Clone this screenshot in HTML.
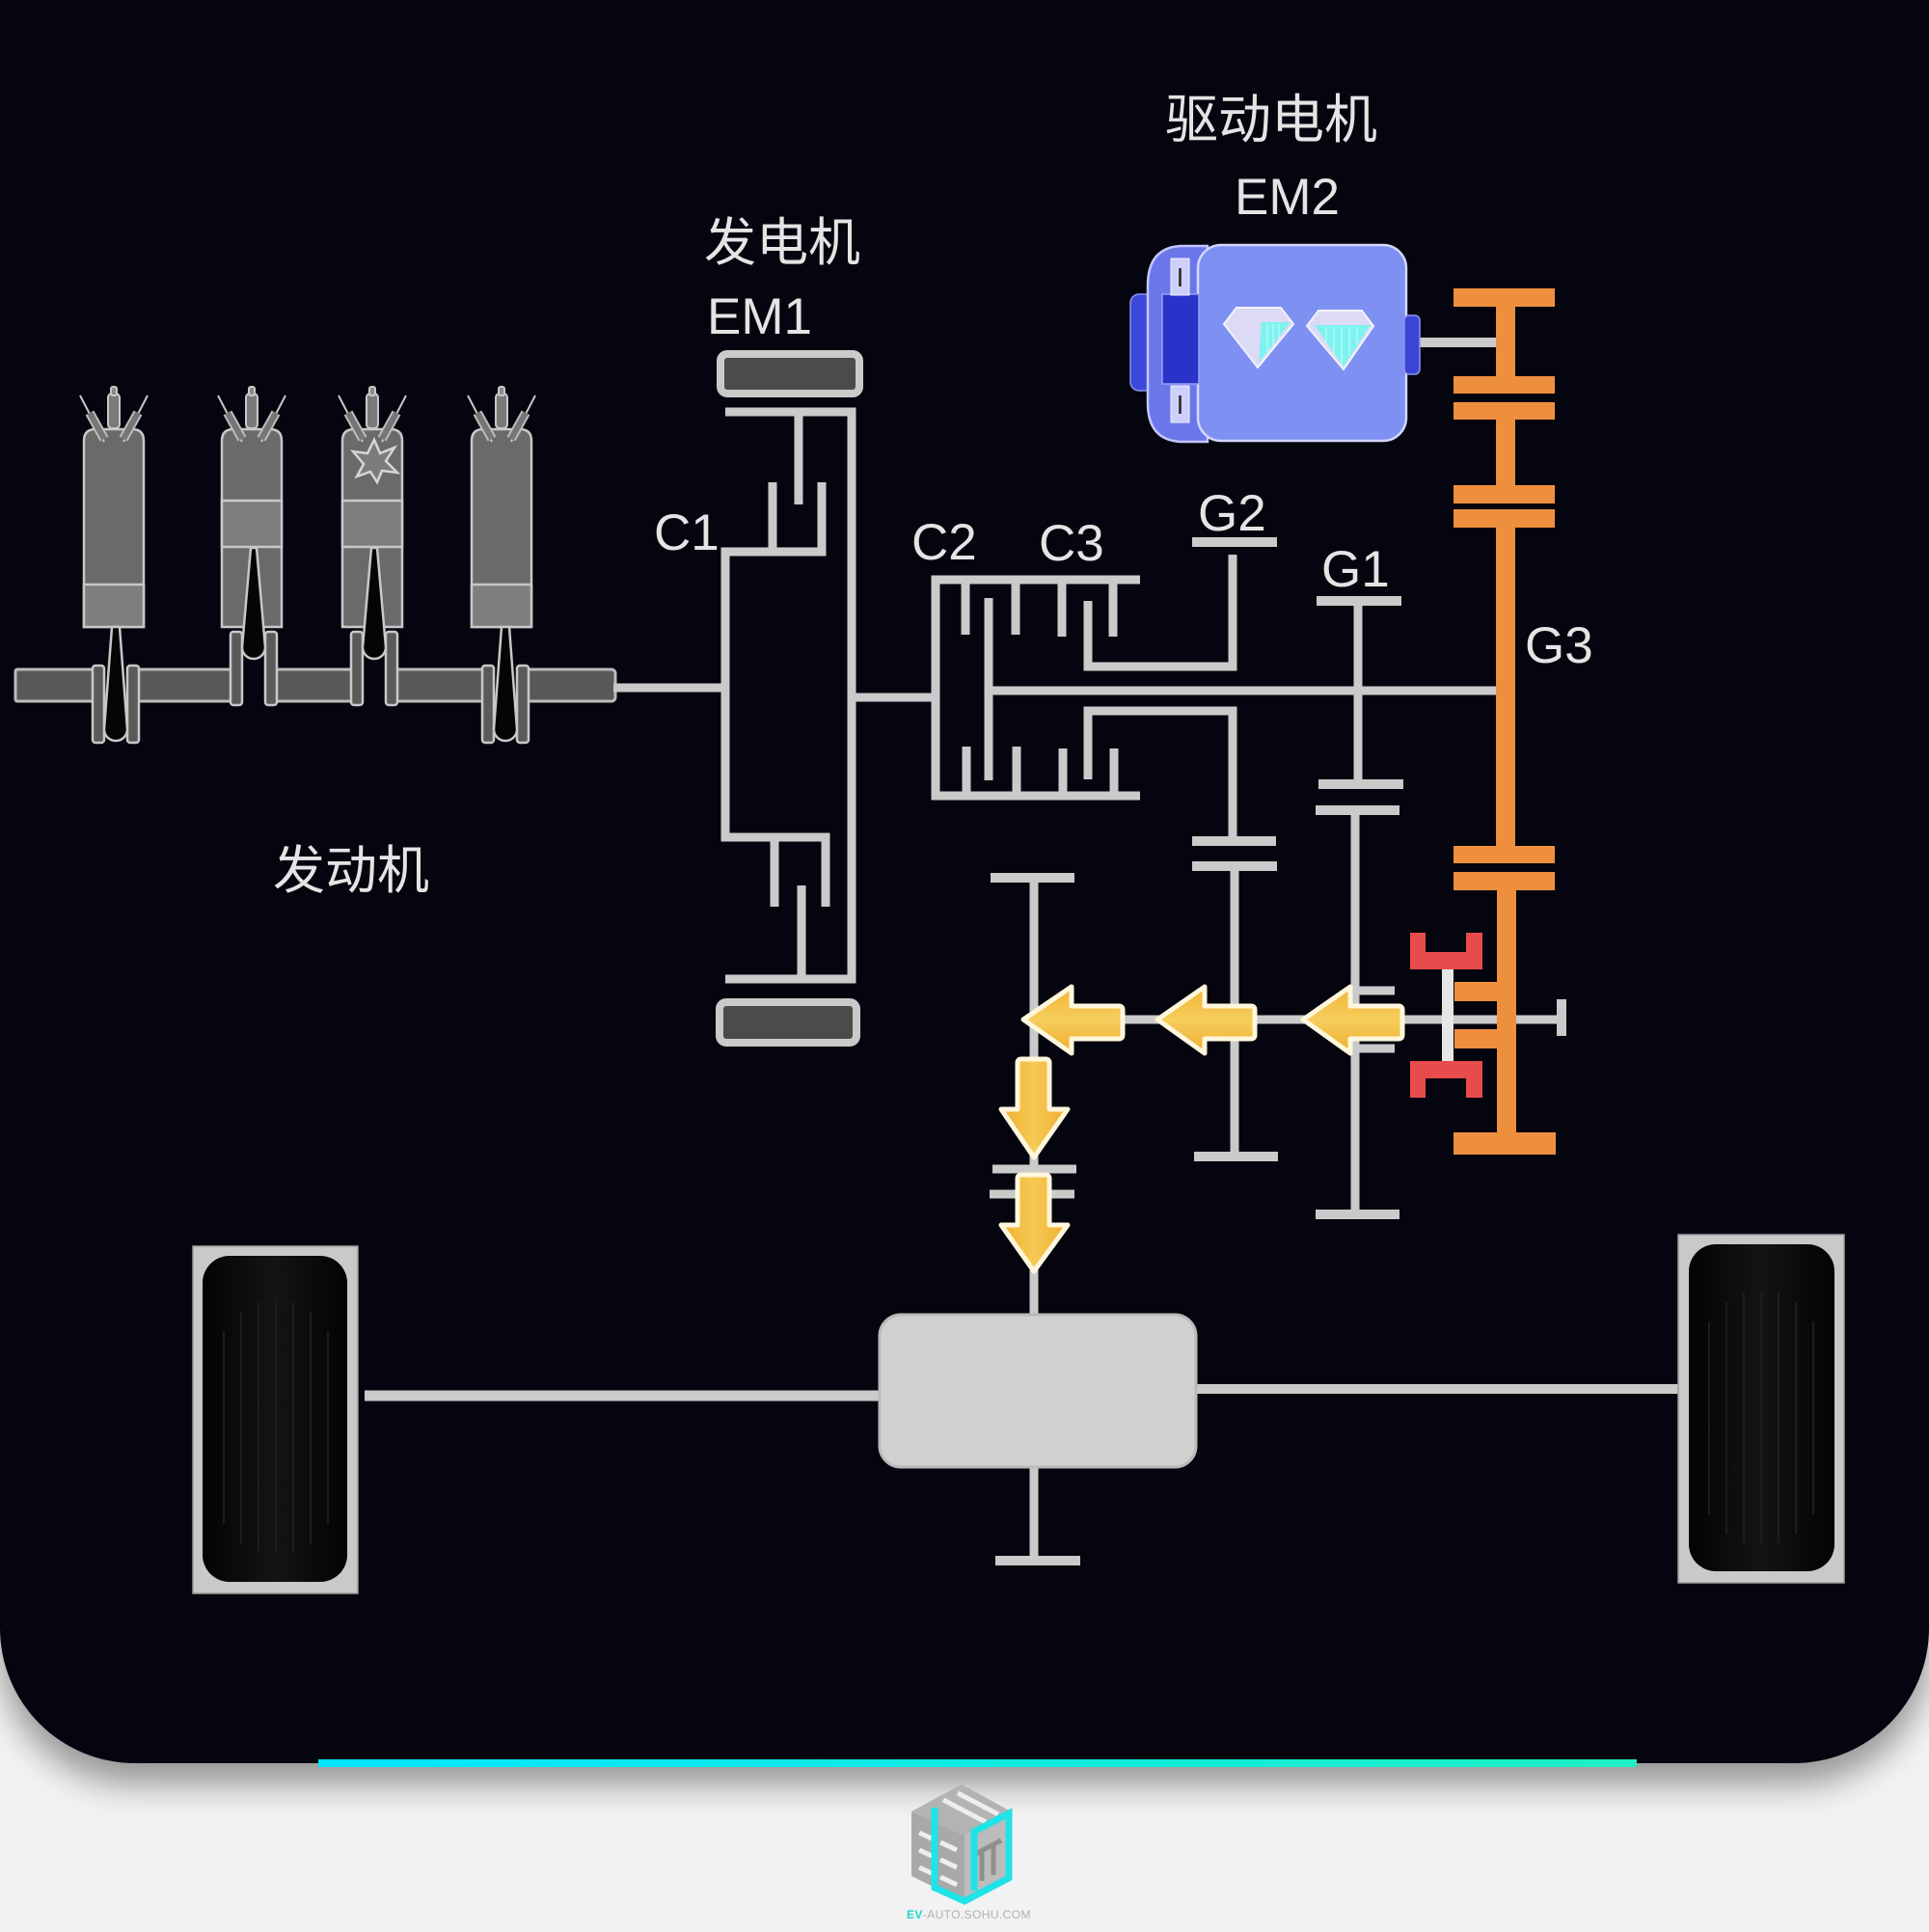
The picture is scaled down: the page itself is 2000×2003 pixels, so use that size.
<!DOCTYPE html>
<html><head><meta charset="utf-8">
<style>
html,body{margin:0;padding:0;}
body{width:2000px;height:2003px;background:#f2f2f2;position:relative;overflow:hidden;}
#card{position:absolute;left:0;top:-200px;width:2000px;height:2028px;background:#04050e;border-radius:0 0 140px 140px;box-shadow:0 22px 34px rgba(0,0,0,0.38);}
svg{position:absolute;left:0;top:0;}
text{font-family:"Liberation Sans","Noto Sans CJK SC",sans-serif;fill:#e4e4e4;}
</style></head>
<body>
<div id="card"></div>
<svg width="2000" height="2003" viewBox="0 0 2000 2003" xmlns="http://www.w3.org/2000/svg">
<defs>
 <linearGradient id="arr" x1="0" y1="0" x2="0" y2="1">
  <stop offset="0" stop-color="#f2b435"/><stop offset="0.5" stop-color="#f6cd5c"/><stop offset="1" stop-color="#eeac2c"/>
 </linearGradient>
 <linearGradient id="arrv" x1="0" y1="0" x2="1" y2="0">
  <stop offset="0" stop-color="#f0b030"/><stop offset="0.5" stop-color="#f6ca55"/><stop offset="1" stop-color="#eeac2c"/>
 </linearGradient>
 <linearGradient id="tire" x1="0" y1="0" x2="1" y2="0">
  <stop offset="0" stop-color="#030303"/><stop offset="0.5" stop-color="#141414"/><stop offset="1" stop-color="#030303"/>
 </linearGradient>
 <linearGradient id="cyan" x1="0" y1="0" x2="1" y2="0">
  <stop offset="0" stop-color="#00e4ff"/><stop offset="1" stop-color="#1ef0c4"/>
 </linearGradient>
</defs>

<!-- ENGINE -->
<g id="engine">
 <!-- crank segments -->
 <g fill="#585858" stroke="#bcbcbc" stroke-width="3">
  <rect x="16" y="694" width="84" height="33" rx="2"/>
  <rect x="136" y="694" width="107" height="33"/>
  <rect x="283" y="694" width="85" height="33"/>
  <rect x="408" y="694" width="96" height="33"/>
  <rect x="544" y="694" width="94" height="33" rx="4"/>
 </g>
 <!-- cylinders -->
 <g stroke="#c8c8c8" stroke-width="2.5">
  <path d="M87 650 V457 Q87 445 99 445 H137 Q149 445 149 457 V650 Z" fill="#6a6a6a"/>
  <path d="M230 650 V457 Q230 445 242 445 H280 Q292 445 292 457 V650 Z" fill="#6a6a6a"/>
  <path d="M355 650 V457 Q355 445 367 445 H405 Q417 445 417 457 V650 Z" fill="#6a6a6a"/>
  <path d="M489 650 V457 Q489 445 501 445 H539 Q551 445 551 457 V650 Z" fill="#6a6a6a"/>
  <!-- pistons -->
  <rect x="87" y="606" width="62" height="44" fill="#7e7e7e"/>
  <rect x="489" y="606" width="62" height="44" fill="#7e7e7e"/>
  <rect x="230" y="519" width="62" height="48" fill="#7e7e7e"/>
  <rect x="355" y="519" width="62" height="48" fill="#7e7e7e"/>
 </g>
 <!-- webs and rods -->
 <g stroke="#c8c8c8" stroke-width="2.5">
  <!-- cyl1 down -->
  <rect x="96" y="690" width="12" height="80" rx="3" fill="#5a5a5a"/>
  <rect x="132" y="690" width="12" height="80" rx="3" fill="#5a5a5a"/>
  <path d="M116 650 L124 650 L132 756 A12 12 0 0 1 108 756 Z" fill="#050505"/>
  <!-- cyl4 down -->
  <rect x="500" y="690" width="12" height="80" rx="3" fill="#5a5a5a"/>
  <rect x="536" y="690" width="12" height="80" rx="3" fill="#5a5a5a"/>
  <path d="M520 650 L528 650 L536 756 A12 12 0 0 1 512 756 Z" fill="#050505"/>
  <!-- cyl2 up -->
  <rect x="239" y="655" width="12" height="76" rx="3" fill="#5a5a5a"/>
  <rect x="275" y="655" width="12" height="76" rx="3" fill="#5a5a5a"/>
  <path d="M260 568 L266 568 L275 671 A12 12 0 0 1 251 671 Z" fill="#050505"/>
  <!-- cyl3 up -->
  <rect x="364" y="655" width="12" height="76" rx="3" fill="#5a5a5a"/>
  <rect x="400" y="655" width="12" height="76" rx="3" fill="#5a5a5a"/>
  <path d="M385 568 L391 568 L400 671 A12 12 0 0 1 376 671 Z" fill="#050505"/>
 </g>
 <!-- valves / plugs -->
 <g stroke="#c8c8c8" stroke-width="2">
  <g id="v1">
   <line x1="83" y1="410" x2="108" y2="458"/>
   <line x1="153" y1="410" x2="128" y2="458"/>
   <line x1="93" y1="428" x2="108" y2="455" stroke-width="10" stroke="#bdbdbd"/>
   <line x1="93" y1="428" x2="108" y2="455" stroke-width="6" stroke="#767676"/>
   <line x1="143" y1="428" x2="128" y2="455" stroke-width="10" stroke="#bdbdbd"/>
   <line x1="143" y1="428" x2="128" y2="455" stroke-width="6" stroke="#767676"/>
   <rect x="112" y="408" width="12" height="36" rx="4" fill="#7a7a7a"/>
   <rect x="115" y="401" width="6" height="9" rx="2" fill="#8a8a8a"/>
  </g>
  <use href="#v1" x="143"/>
  <use href="#v1" x="268"/>
  <use href="#v1" x="402"/>
 </g>
 <!-- explosion -->
 <polygon points="388,456 394,470 409,464 400,478 412,490 396,488 391,500 384,489 370,494 377,481 366,468 381,470" fill="#7c7c7c" stroke="#d6d6d6" stroke-width="2.5"/>
</g>

<!-- GRAY MECHANISM LINES -->
<g stroke="#cacaca" stroke-width="9" fill="none" stroke-linejoin="miter">
 <path d="M752 427 H883 V1015 H752"/>
 <path d="M828 427 V523"/>
 <path d="M852 500 V572 H752 V868 H856 V940"/>
 <path d="M801 500 V572"/>
 <path d="M803 868 V940"/>
 <path d="M831 918 V1015"/>
 <path d="M636 713 H748"/>
 <path d="M883 723 H970"/>
 <!-- C2/C3 -->
 <path d="M1182 601 H970 V825 H1182"/>
 <path d="M1001 601 V658 M1053 601 V658 M1101 601 V660 M1154 601 V660"/>
 <path d="M1002 825 V774 M1054 825 V774 M1102 825 V776 M1155 825 V776"/>
 <path d="M1025 620 V809"/>
 <path d="M1025 716 H1553"/>
 <path d="M1128 623 V691 H1278 V575"/>
 <path d="M1128 808 V737 H1278 V872"/>
 <path d="M1236 562 H1324" stroke-width="10"/>
 <path d="M1236 872 H1323 M1236 898 H1324" stroke-width="10"/>
 <path d="M1280 898 V1199"/>
 <path d="M1238 1199 H1325" stroke-width="10"/>
 <!-- G1 -->
 <path d="M1365 623 H1453 M1367 813 H1455 M1364 840 H1451 M1364 1259 H1451" stroke-width="10"/>
 <path d="M1408 623 V813"/>
 <path d="M1405 840 V1259"/>
 <path d="M1404 1027 H1446 M1404 1087 H1446"/>
 <!-- differential drive -->
 <path d="M1027 910 H1114" stroke-width="10"/>
 <path d="M1072 910 V1365"/>
 <path d="M1029 1212 H1116 M1026 1238 H1114" stroke-width="9"/>
 <path d="M1069 1057 H1620"/>
 <path d="M1619 1036 V1074" stroke-width="10"/>
 <path d="M1072 1520 V1618"/>
 <path d="M1032 1618 H1120" stroke-width="10"/>
 <!-- axles -->
 <path d="M378 1447 H912" stroke-width="11"/>
 <path d="M1238 1440 H1741" stroke-width="10"/>
 <!-- EM2 shaft -->
 <path d="M1470 355 H1553" stroke-width="10"/>
</g>

<!-- EM1 rotor boxes -->
<rect x="747" y="367" width="144" height="41" rx="7" fill="#4b4b4b" stroke="#cacaca" stroke-width="8"/>
<rect x="746" y="1039" width="142" height="42" rx="7" fill="#4b4b4b" stroke="#cacaca" stroke-width="8"/>

<!-- differential box -->
<rect x="912" y="1363" width="328" height="158" rx="22" fill="#d0d0d0" stroke="#bababa" stroke-width="3"/>

<!-- wheels -->
<g>
 <rect x="200" y="1292" width="171" height="360" fill="#c9c9c9" stroke="#9a9a9a" stroke-width="1.5"/>
 <rect x="210" y="1302" width="150" height="338" rx="28" fill="url(#tire)"/>
 <g stroke="#1d1d1d" stroke-width="2">
  <line x1="232" y1="1380" x2="232" y2="1580"/><line x1="250" y1="1360" x2="250" y2="1600"/>
  <line x1="268" y1="1350" x2="268" y2="1610"/><line x1="286" y1="1350" x2="286" y2="1610"/>
  <line x1="304" y1="1350" x2="304" y2="1610"/><line x1="322" y1="1360" x2="322" y2="1600"/>
  <line x1="340" y1="1380" x2="340" y2="1580"/>
 </g>
 <rect x="1740" y="1280" width="172" height="361" fill="#c9c9c9" stroke="#9a9a9a" stroke-width="1.5"/>
 <rect x="1751" y="1290" width="151" height="339" rx="28" fill="url(#tire)"/>
 <g stroke="#1d1d1d" stroke-width="2">
  <line x1="1772" y1="1370" x2="1772" y2="1570"/><line x1="1790" y1="1350" x2="1790" y2="1590"/>
  <line x1="1808" y1="1340" x2="1808" y2="1600"/><line x1="1826" y1="1340" x2="1826" y2="1600"/>
  <line x1="1844" y1="1340" x2="1844" y2="1600"/><line x1="1862" y1="1350" x2="1862" y2="1590"/>
  <line x1="1880" y1="1370" x2="1880" y2="1570"/>
 </g>
</g>

<!-- ORANGE G3 -->
<g fill="#ee8f3e">
 <rect x="1507" y="299" width="105" height="19"/>
 <rect x="1551" y="299" width="20" height="109"/>
 <rect x="1507" y="390" width="105" height="18"/>
 <rect x="1507" y="417" width="105" height="18"/>
 <rect x="1551" y="417" width="20" height="105"/>
 <rect x="1507" y="503" width="105" height="19"/>
 <rect x="1507" y="528" width="105" height="19"/>
 <rect x="1551" y="528" width="20" height="367"/>
 <rect x="1507" y="877" width="105" height="18"/>
 <rect x="1507" y="904" width="105" height="19"/>
 <rect x="1552" y="904" width="20" height="290"/>
 <rect x="1508" y="1018" width="45" height="20"/>
 <rect x="1508" y="1067" width="45" height="20"/>
 <rect x="1507" y="1174" width="106" height="23"/>
</g>

<!-- RED CLUTCH -->
<g fill="#e84b4b">
 <polygon points="1462,967 1478,967 1478,987 1520,987 1520,967 1537,967 1537,1005 1462,1005"/>
 <polygon points="1462,1100 1537,1100 1537,1138 1520,1138 1520,1118 1478,1118 1478,1138 1462,1138"/>
</g>
<rect x="1495" y="1005" width="12" height="95" fill="#e6e6e6"/>

<!-- ARROWS -->
<g stroke="#fff6dc" stroke-width="5" stroke-linejoin="round" fill="url(#arr)">
 <path d="M1061 1057 L1111 1023 L1111 1043 L1160 1043 Q1164 1043 1164 1047 L1164 1073 Q1164 1077 1160 1077 L1111 1077 L1111 1092 Z"/>
 <path d="M1200 1057 L1249 1023 L1249 1043 L1297 1043 Q1301 1043 1301 1047 L1301 1073 Q1301 1077 1297 1077 L1249 1077 L1249 1092 Z"/>
 <path d="M1351 1057 L1400 1023 L1400 1043 L1450 1043 Q1454 1043 1454 1047 L1454 1073 Q1454 1077 1450 1077 L1400 1077 L1400 1092 Z"/>
</g>
<g stroke="#fff6dc" stroke-width="5" stroke-linejoin="round" fill="url(#arrv)">
 <path d="M1072 1200 L1038 1150 L1055 1150 L1055 1102 Q1055 1098 1059 1098 L1084 1098 Q1088 1098 1088 1102 L1088 1150 L1107 1150 Z"/>
 <path d="M1072 1318 L1038 1270 L1055 1270 L1055 1222 Q1055 1218 1059 1218 L1084 1218 Q1088 1218 1088 1222 L1088 1270 L1107 1270 Z"/>
</g>

<!-- EM2 MOTOR -->
<g>
 <rect x="1172" y="305" width="26" height="100" rx="9" fill="#3c48d9" stroke="#8c94f0" stroke-width="1.5"/>
 <path d="M1252 255 L1224 255 Q1190 257 1190 296 L1190 418 Q1190 456 1224 458 L1252 458 Z" fill="#6b77e9" stroke="#c2c6ff" stroke-width="2.5"/>
 <rect x="1242" y="254" width="216" height="203" rx="24" fill="#7e90f1" stroke="#d4d7ff" stroke-width="2.5"/>
 <rect x="1205" y="305" width="38" height="93" fill="#2a33c9" stroke="#9aa0f5" stroke-width="1.5"/>
 <rect x="1214" y="268" width="19" height="38" fill="#cdd0fa" stroke="#eef0ff" stroke-width="1"/>
 <rect x="1214" y="400" width="19" height="38" fill="#cdd0fa" stroke="#eef0ff" stroke-width="1"/>
 <line x1="1223.5" y1="278" x2="1223.5" y2="297" stroke="#222" stroke-width="2.5"/>
 <line x1="1223.5" y1="410" x2="1223.5" y2="429" stroke="#222" stroke-width="2.5"/>
 <rect x="1456" y="327" width="16" height="61" rx="5" fill="#3a45d6" stroke="#8c94f0" stroke-width="1.5"/>
 <!-- diamonds -->
 <path d="M1282 319 L1328 319 L1341 336 L1304 381 L1269 336 Z" fill="#dcdaf5" stroke="#f2f2ff" stroke-width="2"/>
 <path d="M1308 334 L1338 334 L1305 376 Z" fill="#7ef2ef"/>
 <path d="M1367 322 L1412 322 L1424 338 L1393 383 L1355 338 Z" fill="#dcdaf5" stroke="#f2f2ff" stroke-width="2"/>
 <path d="M1363 337 L1421 337 L1393 380 Z" fill="#7ef2ef"/>
 <g stroke="#b8fbfb" stroke-width="1.2">
  <line x1="1314" y1="336" x2="1314" y2="366"/><line x1="1320" y1="336" x2="1320" y2="358"/><line x1="1326" y1="336" x2="1326" y2="351"/>
  <line x1="1375" y1="339" x2="1375" y2="356"/><line x1="1383" y1="339" x2="1383" y2="368"/><line x1="1391" y1="339" x2="1391" y2="378"/><line x1="1399" y1="339" x2="1399" y2="369"/><line x1="1407" y1="339" x2="1407" y2="357"/>
 </g>
</g>

<!-- LABELS -->
<g font-size="53">
 <text x="1208" y="143" font-size="55">驱动电机</text>
 <text x="1280" y="222">EM2</text>
 <text x="730" y="270" font-size="54">发电机</text>
 <text x="733" y="346">EM1</text>
 <text x="678" y="570">C1</text>
 <text x="945" y="580">C2</text>
 <text x="1077" y="581">C3</text>
 <text x="1242" y="550">G2</text>
 <text x="1370" y="608">G1</text>
 <text x="1581" y="687">G3</text>
 <text x="283" y="921" font-size="54">发动机</text>
</g>

<!-- CYAN PROGRESS BAR -->
<rect x="330" y="1824" width="1367" height="8" fill="url(#cyan)"/>

<!-- LOGO -->
<g>
 <polygon points="997,1850 1048,1878 1000,1903 945,1878" fill="#b3b3b3"/>
 <g stroke="#eeeeee" stroke-width="5">
  <line x1="978" y1="1866" x2="1022" y2="1889"/>
  <line x1="993" y1="1859" x2="1035" y2="1881"/>
 </g>
 <polygon points="945,1878 1000,1903 1000,1972 945,1945" fill="#a9a9a9"/>
 <g stroke="#eeeeee" stroke-width="5">
  <line x1="953" y1="1900" x2="968" y2="1907"/>
  <line x1="953" y1="1918" x2="968" y2="1925"/>
  <line x1="953" y1="1936" x2="968" y2="1943"/>
  <line x1="975" y1="1910" x2="992" y2="1918"/>
  <line x1="975" y1="1928" x2="992" y2="1936"/>
  <line x1="975" y1="1946" x2="992" y2="1954"/>
 </g>
 <polygon points="1000,1903 1048,1878 1048,1945 1000,1972" fill="#bcbcbc"/>
 <g stroke="#8f8f8f" stroke-width="5" fill="none">
  <path d="M1012 1922 L1038 1908"/>
  <path d="M1018 1920 V1950 M1030 1914 V1944"/>
 </g>
 <path d="M969 1874 V1957 L1000 1971 L1046 1947 V1880 L1010 1899 V1960" fill="none" stroke="#1fe3e6" stroke-width="7" stroke-linejoin="miter"/>
 <text x="940" y="1989" font-size="12" letter-spacing="0.4" style="fill:#b0b0b0"><tspan style="fill:#1ed9c9;font-weight:bold">EV</tspan>-AUTO.SOHU.COM</text>
</g>
</svg>
</body></html>
